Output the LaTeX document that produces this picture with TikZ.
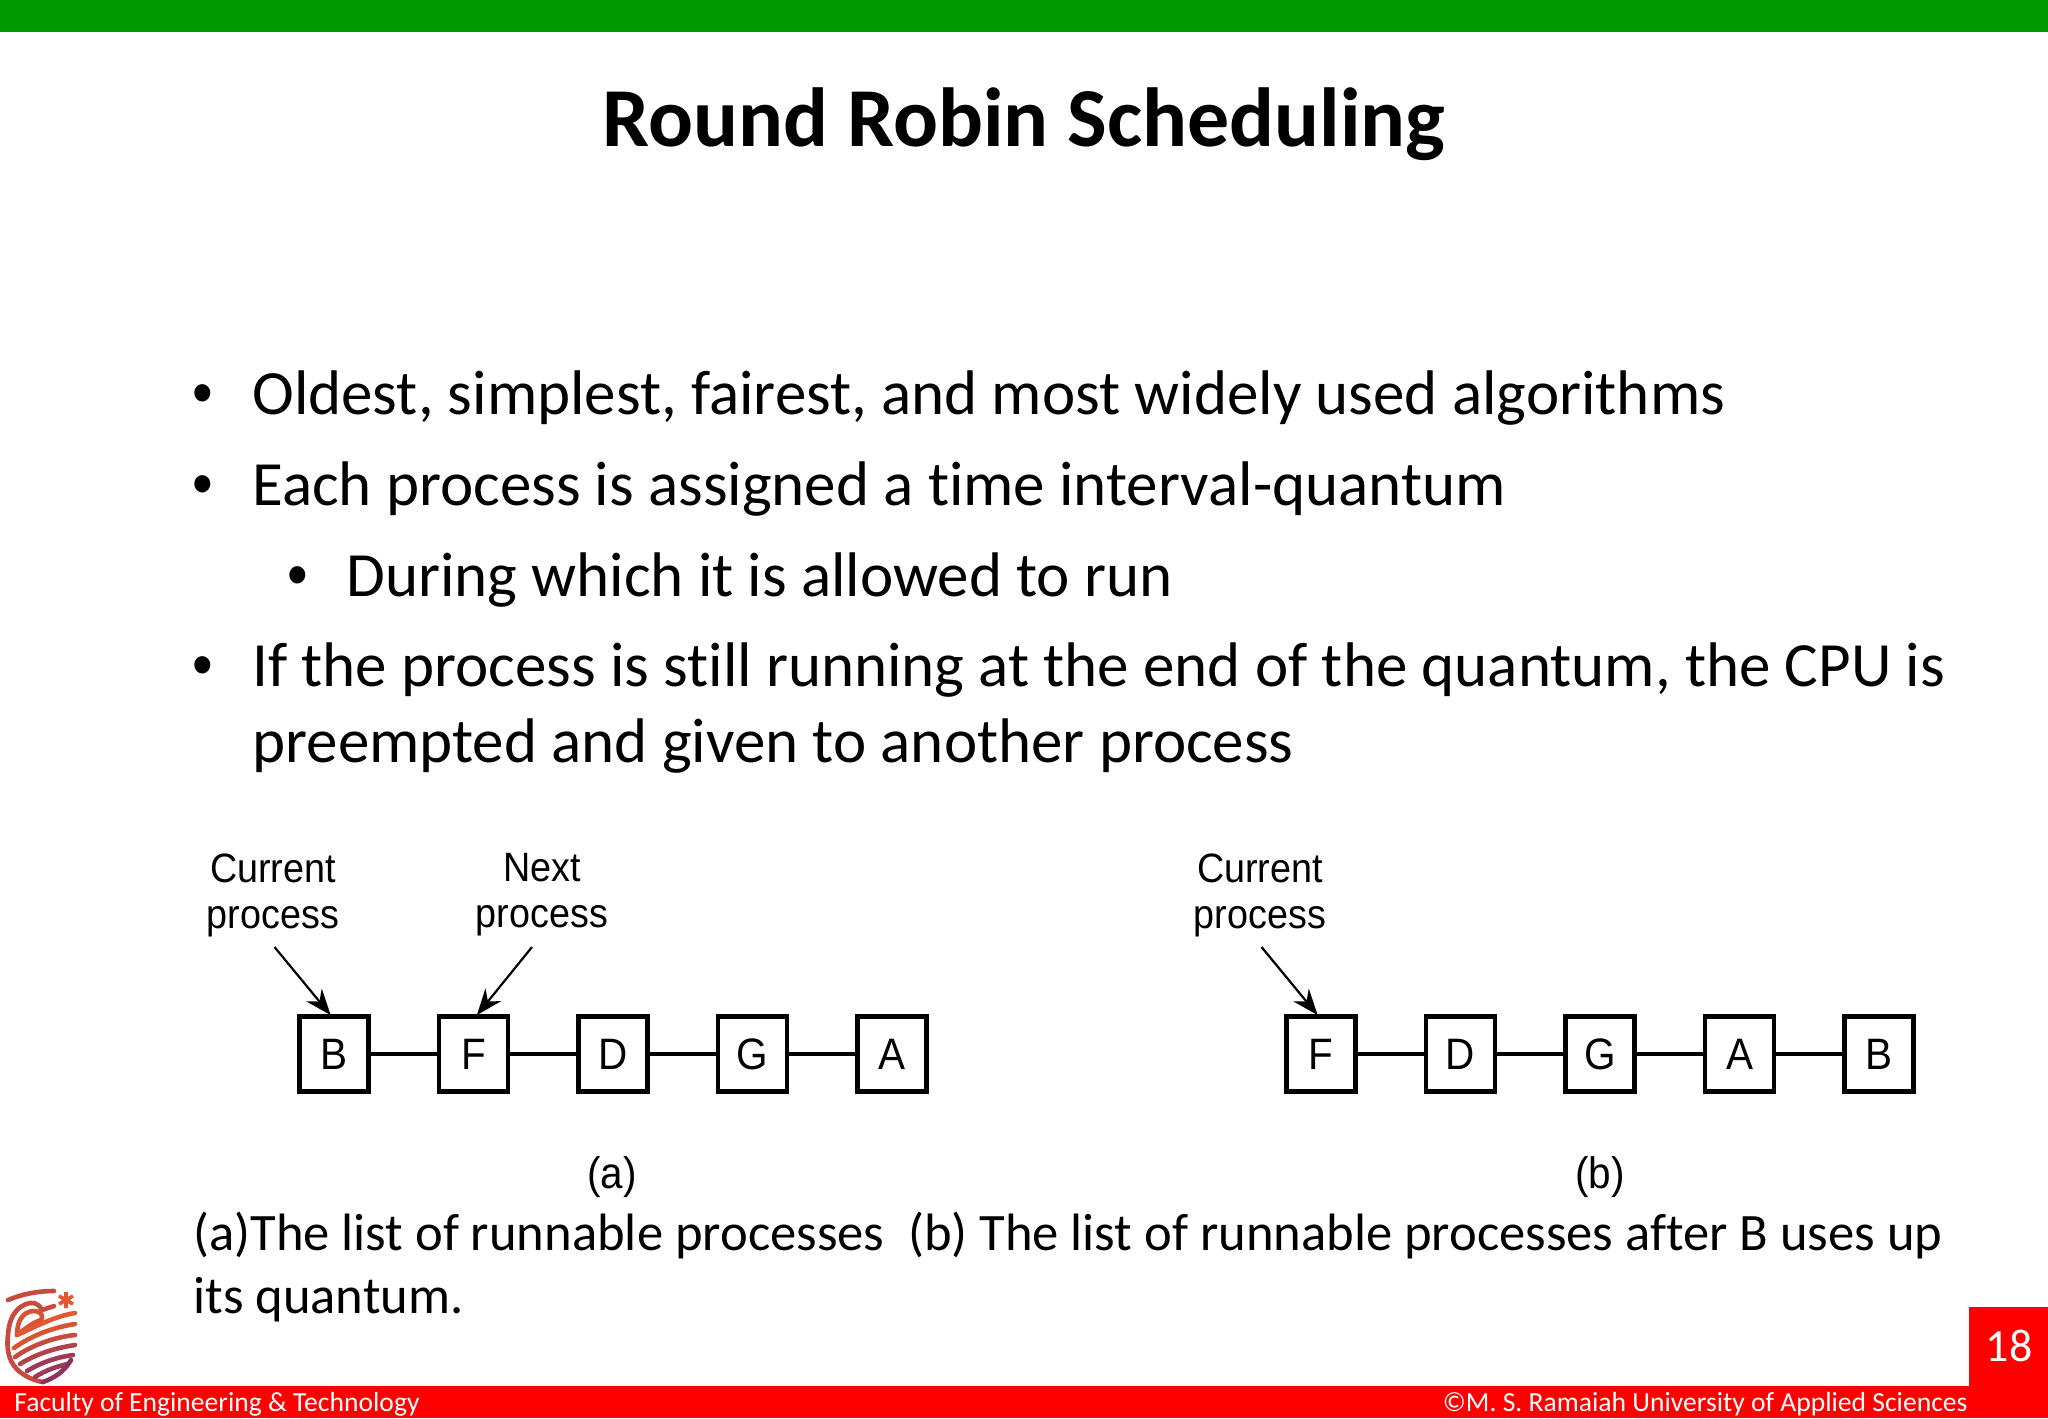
\documentclass[tikz,border=0pt]{standalone}
\usepackage{fontspec}
\setmainfont{Carlito}[Ligatures=CommonOff]
\newfontfamily\helv{Liberation Sans}[FakeStretch=0.92]
\usetikzlibrary{arrows.meta,calc}
\definecolor{topgreen}{RGB}{0,153,0}
\definecolor{barred}{RGB}{255,0,0}
\definecolor{lgA}{RGB}{226,88,48}
\definecolor{lgB}{RGB}{214,84,52}
\definecolor{lgC}{RGB}{198,74,62}
\definecolor{lgD}{RGB}{178,66,76}
\definecolor{lgE}{RGB}{158,58,88}
\definecolor{lgF}{RGB}{140,50,92}
\tikzset{
 x=0.5pt,y=-0.5pt,
 pbox/.style={draw=black,line width=2.2pt,minimum width=34.5pt,minimum height=37.5pt,inner sep=0pt,font=\helv\fontsize{22}{22}\selectfont},
 link/.style={draw=black,line width=2.2pt},
 pointer/.style={draw=black,line width=1.1pt,-{Stealth[length=13pt,width=10pt]},shorten >=-0.5pt},
 plabel/.style={font=\helv\fontsize{20.5}{23}\selectfont,align=center,inner sep=0pt},
 body/.style={anchor=base west,inner sep=0pt,font=\fontsize{31.5}{31.5}\selectfont},
 bull/.style={anchor=base,inner sep=0pt,font=\helv\fontsize{32}{32}\selectfont},
 captext/.style={anchor=base west,inner sep=0pt,font=\fontsize{26.3}{26.3}\selectfont},
 foot/.style={inner sep=0pt,text=white,font=\fontsize{13.8}{13.8}\selectfont},
 logostroke/.style={line cap=round,line join=round,line width=2.3pt},
}
\begin{document}
\begin{tikzpicture}
\useasboundingbox (0,0) rectangle (2048,1418);
\fill[white] (0,0) rectangle (2048,1418);
\fill[topgreen] (0,0) rectangle (2048,32);
\fill[barred] (0,1386) rectangle (2048,1418);
\fill[barred] (1969,1307) rectangle (2048,1418);
\node[inner sep=0pt,anchor=base,font=\bfseries\fontsize{41.9}{41.9}\selectfont] (title) at (1024,146) {Round Robin Scheduling};
\node[bull] (m1) at (203,414) {•};
\node[body] (t1) at (252,414) {Oldest, simplest, fairest, and most widely used algorithms};
\node[bull] (m2) at (203,505) {•};
\node[body] (t2) at (252,505) {Each process is assigned a time interval-quantum};
\node[bull] (m3) at (298,596) {•};
\node[body] (t3) at (346,596) {During which it is allowed to run};
\node[bull] (m4) at (203,686) {•};
\node[body] (t4) at (252,686) {If the process is still running at the end of the quantum, the CPU is};
\node[body] (t5) at (252,762) {preempted and given to another process};
% list (a)
\node[pbox] (a1) at (334,1054) {B};
\node[pbox] (a2) at (473.5,1054) {F};
\node[pbox] (a3) at (613,1054) {D};
\node[pbox] (a4) at (752.5,1054) {G};
\node[pbox] (a5) at (892,1054) {A};
\draw[link] (a1)--(a2); \draw[link] (a2)--(a3); \draw[link] (a3)--(a4); \draw[link] (a4)--(a5);
\node[plabel] (cura) at (273,895) {Current\\process};
\node[plabel] (nexta) at (542,895) {Next\\process};
\coordinate (cs) at (274.5,947);
\coordinate (ns) at (532,947);
\draw[pointer] (cs) -- ($(a1.north)+(-4,0)$);
\draw[pointer] (ns) -- ($(a2.north)+(4,0)$);
\node[plabel,font=\helv\fontsize{22}{23}\selectfont] (capa) at (612,1177) {(a)};
% list (b)
\node[pbox] (b1) at (1321,1054) {F};
\node[pbox] (b2) at (1460.5,1054) {D};
\node[pbox] (b3) at (1600,1054) {G};
\node[pbox] (b4) at (1739.5,1054) {A};
\node[pbox] (b5) at (1879,1054) {B};
\draw[link] (b1)--(b2); \draw[link] (b2)--(b3); \draw[link] (b3)--(b4); \draw[link] (b4)--(b5);
\node[plabel] (curb) at (1260,895) {Current\\process};
\coordinate (cb) at (1261.5,947);
\draw[pointer] (cb) -- ($(b1.north)+(-4,0)$);
\node[plabel,font=\helv\fontsize{22}{23}\selectfont] (capb) at (1600,1177) {(b)};
% caption
\node[captext] (c1) at (193,1250) {(a)The list of runnable processes\ \ (b) The list of runnable processes after B uses up};
\node[captext] (c2) at (193,1313) {its quantum.};
% footer
\node[foot,anchor=base west] (fl) at (14,1411) {Faculty of Engineering \& Technology};
\node[foot,anchor=base east] (fr) at (1968,1411) {©M. S. Ramaiah University of Applied Sciences};
\node[inner sep=0pt,anchor=base,text=white,font=\fontsize{23}{23}\selectfont] (pg) at (2009,1361) {18};
% logo
\draw[logostroke,lgC] (8,1300) .. controls (22,1294) and (38,1291) .. (54,1291);
\draw[logostroke,lgC] (54,1306) -- (42,1310) .. controls (38,1302) and (32,1302) .. (26,1304) .. controls (14,1309) and (9,1320) .. (8,1335) .. controls (6,1352) and (10,1364) .. (20,1372) .. controls (28,1378) and (36,1381) .. (43,1382);
\draw[logostroke,lgB] (17,1335) .. controls (17,1322) and (22,1312) .. (33,1311) .. controls (40,1311) and (44,1314) .. (41,1320) .. controls (34,1322) and (26,1328) .. (17,1335);
\draw[logostroke,lgA] (17,1335) .. controls (35,1327) and (55,1316) .. (75,1313);
\draw[logostroke,lgB] (14,1348) .. controls (32,1335) and (55,1327) .. (75,1324);
\draw[logostroke,lgC] (15,1357) .. controls (32,1345) and (55,1337) .. (75,1335);
\draw[logostroke,lgD] (20,1364) .. controls (36,1354) and (55,1348) .. (75,1345);
\draw[logostroke,lgE] (27,1371) .. controls (42,1362) and (58,1357) .. (73,1355);
\draw[logostroke,lgE] (35,1377) .. controls (46,1370) and (58,1366) .. (68,1364);
\draw[logostroke,lgF] (43,1382) .. controls (54,1378) and (64,1372) .. (71,1360);
\draw[line width=1.8pt,lgA] (66,1292) -- (66,1308) (59,1296) -- (73,1304) (59,1304) -- (73,1296);
\end{tikzpicture}
\end{document}
